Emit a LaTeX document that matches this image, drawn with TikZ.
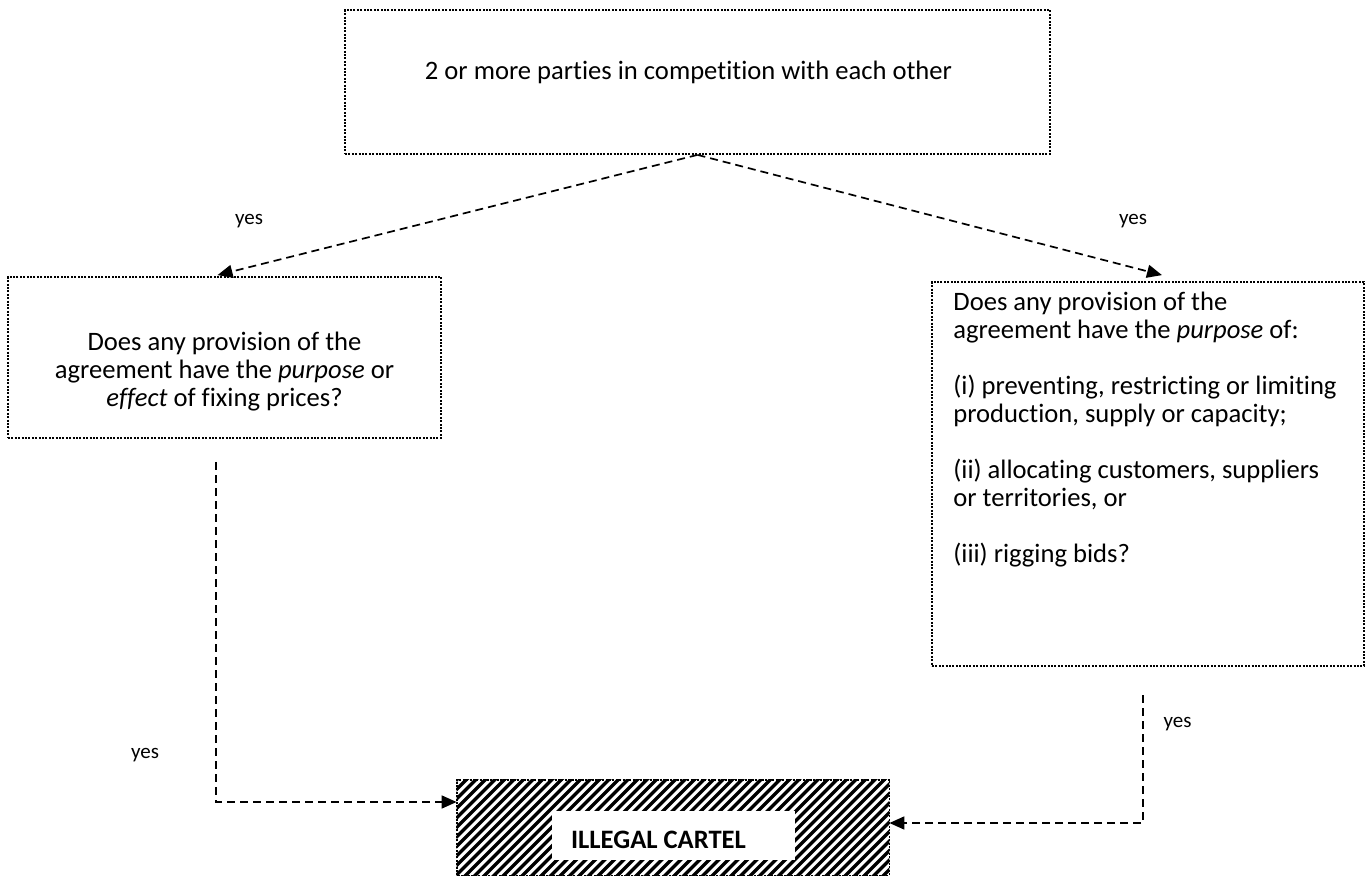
\documentclass[tikz,border=0pt]{standalone}
\usepackage{fontspec}
\setmainfont{Carlito}[Ligatures=NoCommon]
\usetikzlibrary{arrows.meta}
\begin{document}
\begin{tikzpicture}[x=0.5pt,y=-0.5pt,
  dotbox/.style={draw,line width=0.9pt,dash pattern=on 1pt off 0.7pt,inner sep=0pt},
  conn/.style={line width=0.85pt,dash pattern=on 4pt off 2.5pt,-{Triangle[length=7.5pt,width=6.5pt]}},
  lbl/.style={font=\fontsize{13.3}{14}\selectfont,inner sep=0pt},
  yeslbl/.style={font=\fontsize{10.5}{12.8}\selectfont,inner sep=0pt},
  hatch/.style={line width=1.6pt},
]
\useasboundingbox (0,0) rectangle (1372,877);
% top box
\node[dotbox,minimum width=352.5pt,minimum height=72pt] (top) at (697.5,82) {};
\node[lbl,anchor=base] (toptext) at (688.5,80) {2 or more parties in competition with each other};
% left box
\node[dotbox,minimum width=216.5pt,minimum height=80.5pt] (left) at (224.5,357.5) {};
\node[lbl,align=center,anchor=north] (lefttext) at (224.5,332)
  {Does any provision of the\\agreement have the \emph{purpose} or\\\emph{effect} of fixing prices?};
% right box
\node[dotbox,minimum width=216pt,minimum height=192pt] (right) at (1148,474) {};
\node[lbl,align=left,anchor=north west] (righttext) at (953,292)
  {Does any provision of the\\agreement have the \emph{purpose} of:\\[14pt]
   (i) preventing, restricting or limiting\\production, supply or capacity;\\[14pt]
   (ii) allocating customers, suppliers\\or territories, or\\[14pt]
   (iii) rigging bids?};
% cartel box
\node[inner sep=0pt,minimum width=216pt,minimum height=47.5pt] (cartel) at (673,827.5) {};
\begin{scope}
  \clip (cartel.south west) rectangle (cartel.north east);
  \foreach \i in {0,...,60} \draw[hatch] (342+9.5*\i,885) -- (457+9.5*\i,770);
\end{scope}
\draw[line width=0.9pt,dash pattern=on 1pt off 0.7pt] (cartel.south west) rectangle (cartel.north east);
\node[fill=white,inner sep=0pt,minimum width=121.5pt,minimum height=24.5pt] (inner) at (673.5,835.5) {};
\node[font=\fontsize{13.3}{14}\selectfont\bfseries,inner sep=0pt,anchor=base] (cartellabel) at (658.5,848) {ILLEGAL CARTEL};
% yes labels
\node[yeslbl,anchor=base] (y1) at (249,225) {yes};
\node[yeslbl,anchor=base] (y2) at (1133,225) {yes};
\node[yeslbl,anchor=base] (y3) at (145,758) {yes};
\node[yeslbl,anchor=base] (y4) at (1177.5,727) {yes};
% connectors
\draw[conn] (top.south) -- ([xshift=-3.5pt,yshift=0.5pt]left.north);
\draw[conn] (top.south) -- ([xshift=7pt,yshift=3pt]right.north);
\coordinate (lstart) at (216,462);
\coordinate (rstart) at (1143,695);
\draw[conn] (lstart) |- ([yshift=12.75pt]cartel.west);
\draw[conn] (rstart) |- ([yshift=2.25pt]cartel.east);
\end{tikzpicture}
\end{document}
